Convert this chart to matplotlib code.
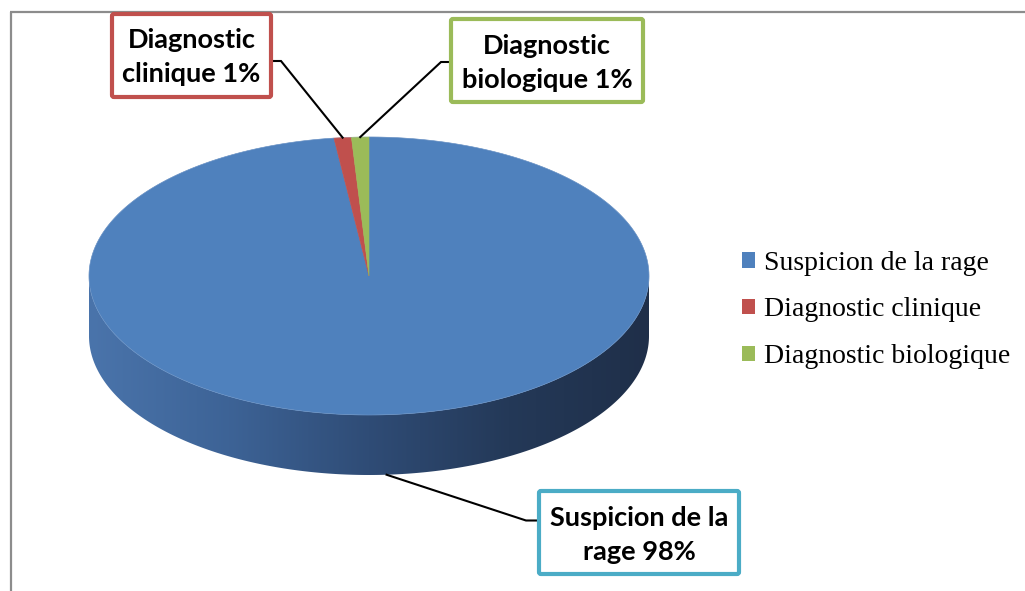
import numpy as np
import matplotlib
matplotlib.use("Agg")
import matplotlib.pyplot as plt
from matplotlib.patches import Polygon, FancyBboxPatch, Patch
from matplotlib.colors import LinearSegmentedColormap

# Data
categories = ["Suspicion de la rage", "Diagnostic clinique", "Diagnostic biologique"]
values = [98, 1, 1]
label_lines = ["Suspicion de la\nrage", "Diagnostic\nclinique", "Diagnostic\nbiologique"]
colors = ["#4f81bd", "#c0504d", "#9bbb59"]
box_edge = ["#4bacc6", "#c0504d", "#9bbb59"]

W, H = 1025, 591
fig = plt.figure(figsize=(W / 100, H / 100), dpi=100)
ax = fig.add_axes([0, 0, 1, 1])
ax.set_xlim(0, W)
ax.set_ylim(H, 0)
ax.axis("off")

# chart frame (top and left edges)
ax.plot([10, W], [12, 12], color="#8c8c8c", lw=1.6, solid_capstyle="butt")
ax.plot([11, 11], [12, H], color="#8c8c8c", lw=1.6, solid_capstyle="butt")

# pie geometry (pixel layout)
cx, cy, a, b, depth = 369, 276, 280, 139, 60


def pt(theta_deg, dy=0.0):
    t = np.radians(theta_deg)
    return cx + a * np.cos(t), cy - b * np.sin(t) + dy


# slice angles: start at 12 o'clock, go clockwise
total = float(sum(values))
starts, ends = [], []
ang = 90.0
for v in values:
    sweep = 360.0 * v / total
    starts.append(ang)
    ends.append(ang - sweep)
    ang -= sweep

# side wall (front half) with horizontal shading
th = np.linspace(180, 360, 300)
top_arc = np.array([pt(t) for t in th])
bot_arc = np.array([pt(t, depth) for t in th[::-1]])
side = Polygon(np.vstack([top_arc, bot_arc]), closed=True, facecolor="none", edgecolor="none")
ax.add_patch(side)
side_cmap = LinearSegmentedColormap.from_list(
    "side", ["#4a74ab", "#3d6396", "#2f4c76", "#243958", "#1f2f49"])
grad = np.linspace(0, 1, 256).reshape(1, -1)
im = ax.imshow(grad, cmap=side_cmap, extent=[cx - a, cx + a, cy + b + depth + 2, cy - 2],
               aspect="auto", zorder=2, interpolation="bilinear")
im.set_clip_path(side)
ax.set_xlim(0, W)
ax.set_ylim(H, 0)

# top faces of the slices
for s, e, c in zip(starts, ends, colors):
    arc = np.array([pt(t) for t in np.linspace(s, e, 400)])
    poly = np.vstack([[cx, cy], arc])
    ax.add_patch(Polygon(poly, closed=True, facecolor=c, edgecolor=c, lw=0.4, zorder=3))

# faint rim on the top ellipse
rim = np.array([pt(t) for t in np.linspace(0, 360, 500)])
ax.plot(rim[:, 0], rim[:, 1], color="#8fa9cf", lw=0.5, alpha=0.35, zorder=4)

# data labels with leader lines
label_font = dict(family=["Lato", "DejaVu Sans"], weight="bold", fontsize=19.5, color="black")
boxes = [
    (539, 491, 739, 574),  # Suspicion
    (112, 14, 271, 97),    # clinique
    (451, 19, 643, 102),   # biologique
]
for i, (v, txt) in enumerate(zip(values, label_lines)):
    x0, y0, x1, y1 = boxes[i]
    ax.add_patch(FancyBboxPatch((x0, y0), x1 - x0, y1 - y0,
                                boxstyle="round,pad=0,rounding_size=2",
                                facecolor="white", edgecolor=box_edge[i], lw=3.0, zorder=6))
    ax.text((x0 + x1) / 2, (y0 + y1) / 2 + 2, f"{txt} {v}%", ha="center", va="center",
            linespacing=1.5, zorder=7, **label_font)

    mid = (starts[i] + ends[i]) / 2.0
    if i == 0:
        px, py = pt(mid, depth)
        ymid = (y0 + y1) / 2 - 12
        xs = [px, x0 - 13, x0]
        ys = [py, ymid, ymid]
    elif i == 1:
        px, py = pt(mid)
        ymid = 61
        xs = [x1, x1 + 10, px]
        ys = [ymid, ymid, py]
    else:
        px, py = pt(mid)
        ymid = 62
        xs = [x0, x0 - 10, px]
        ys = [ymid, ymid, py]
    ax.plot(xs, ys, color="black", lw=1.5, zorder=5, solid_joinstyle="miter")

# legend
handles = [Patch(facecolor=c, edgecolor="none") for c in colors]
leg = ax.legend(handles, categories, loc="center left", bbox_to_anchor=(742, 310),
                bbox_transform=ax.transData, frameon=False, borderpad=0, borderaxespad=0,
                handlelength=0.48, handleheight=0.48, handletextpad=0.3, labelspacing=0.78,
                prop=dict(family="Liberation Serif", size=20))

fig.savefig("out.png", dpi=100)
